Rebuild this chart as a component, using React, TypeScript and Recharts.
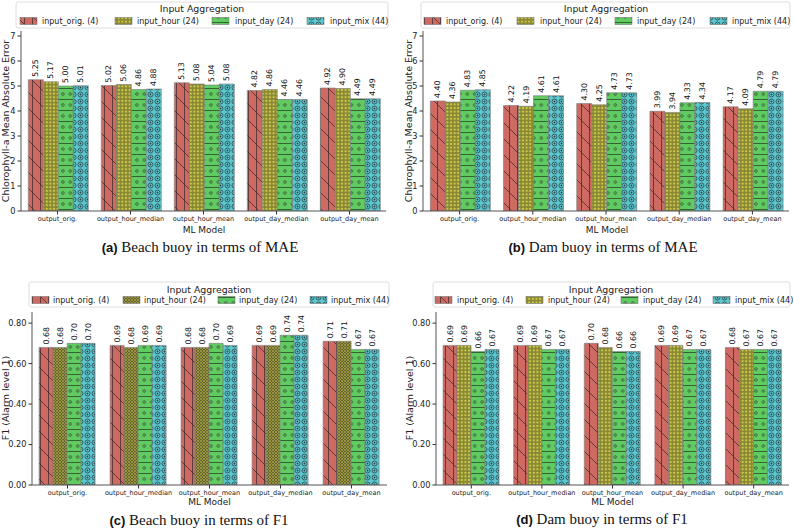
import React from "react";
import { BarChart, Bar, XAxis, YAxis, LabelList } from "recharts";

const MODELS = [
  "output_orig.",
  "output_hour_median",
  "output_hour_mean",
  "output_day_median",
  "output_day_mean",
];
const SERIES = ["input_orig. (4)", "input_hour (24)", "input_day (24)", "input_mix (44)"];
const KEYS = ["orig", "hour", "day", "mix"];

// (a) beach buoy, MAE
const beachMaeOrig = [5.25, 5.02, 5.13, 4.82, 4.92];
const beachMaeHour = [5.17, 5.06, 5.08, 4.86, 4.9];
const beachMaeDay = [5.0, 4.86, 5.04, 4.46, 4.49];
const beachMaeMix = [5.01, 4.88, 5.08, 4.46, 4.49];

// (b) dam buoy, MAE
const damMaeOrig = [4.4, 4.22, 4.3, 3.99, 4.17];
const damMaeHour = [4.36, 4.19, 4.25, 3.94, 4.09];
const damMaeDay = [4.83, 4.61, 4.73, 4.33, 4.79];
const damMaeMix = [4.85, 4.61, 4.73, 4.34, 4.79];

// (c) beach buoy, F1
const beachF1Orig = [0.68, 0.69, 0.68, 0.69, 0.71];
const beachF1Hour = [0.68, 0.68, 0.68, 0.69, 0.71];
const beachF1Day = [0.7, 0.69, 0.7, 0.74, 0.67];
const beachF1Mix = [0.7, 0.69, 0.69, 0.74, 0.67];

// (d) dam buoy, F1
const damF1Orig = [0.69, 0.69, 0.7, 0.69, 0.68];
const damF1Hour = [0.69, 0.69, 0.68, 0.69, 0.67];
const damF1Day = [0.66, 0.67, 0.66, 0.67, 0.67];
const damF1Mix = [0.67, 0.67, 0.66, 0.67, 0.67];

const MAE_TICKS = [0, 1, 2, 3, 4, 5, 6, 7];
const F1_TICKS = [0, 0.2, 0.4, 0.6, 0.8];

const FONT = "DejaVu Sans";
const SPINE = "#555";

function rowsOf(orig: number[], hour: number[], day: number[], mix: number[]) {
  return MODELS.map((m, i) => ({ model: m, orig: orig[i], hour: hour[i], day: day[i], mix: mix[i] }));
}

function Patterns() {
  return (
    <svg width={0} height={0} style={{ position: "absolute" }}>
      <defs>
        <pattern id="pOrig" patternUnits="userSpaceOnUse" width={16} height={16}>
          <rect width={16} height={16} fill="#CF6A62" />
          <path d="M0,0 L16,16 M-8,8 L8,24 M8,-8 L24,8" stroke="#3b2b2b" strokeWidth={0.75} />
          <path d="M0.5,0 V16 M8.5,0 V16" stroke="#3b2b2b" strokeWidth={0.75} />
        </pattern>
        <pattern id="pHourA" patternUnits="userSpaceOnUse" width={3.6} height={3.6}>
          <rect width={3.6} height={3.6} fill="#CFCB48" />
          <circle cx={1.8} cy={1.8} r={1.15} fill="none" stroke="#3f3f22" strokeWidth={0.7} />
        </pattern>
        <pattern id="pHourC" patternUnits="userSpaceOnUse" width={3} height={3}>
          <rect width={3} height={3} fill="#A9A442" />
          <circle cx={1.5} cy={1.5} r={0.95} fill="none" stroke="#3a3a22" strokeWidth={0.7} />
        </pattern>
        <pattern id="pDay" patternUnits="userSpaceOnUse" width={7.4} height={11}>
          <rect width={7.4} height={11} fill="#60CB60" />
          <path d="M0,0.5 H7.4" stroke="#2e4a2e" strokeWidth={0.8} />
          <circle cx={3.7} cy={6} r={1.3} fill="none" stroke="#2e3a2e" strokeWidth={0.65} />
        </pattern>
        <pattern id="pMix" patternUnits="userSpaceOnUse" width={7} height={7}>
          <rect width={7} height={7} fill="#5BC8CF" />
          <circle cx={3.5} cy={3.5} r={2.5} fill="none" stroke="#2b3f45" strokeWidth={0.8} />
          <circle cx={3.5} cy={3.5} r={0.9} fill="#2b3f45" />
        </pattern>
      </defs>
    </svg>
  );
}

function renderValue(props: any) {
  const { x, y, width, value } = props;
  const cx = Number(x) + Number(width) / 2;
  const cy = Number(y) - 3;
  return (
    <text
      x={cx}
      y={cy}
      transform={`rotate(-90 ${cx} ${cy})`}
      textAnchor="start"
      dominantBaseline="central"
      fontSize={7.8}
      fontFamily={FONT}
      fill="#111"
    >
      {Number(value).toFixed(2)}
    </text>
  );
}

type PanelProps = {
  rows: any[];
  left: number;
  top: number;
  margin: { top: number; right: number; bottom: number; left: number };
  yWidth: number;
  domain: [number, number];
  ticks: number[];
  fmt: (v: number) => string;
  hourFill: string;
};

function Panel({ rows, left, top, margin, yWidth, domain, ticks, fmt, hourFill }: PanelProps) {
  const fills = ["pOrig", hourFill, "pDay", "pMix"];
  return (
    <div style={{ position: "absolute", left, top }}>
      <BarChart width={397} height={264} data={rows} margin={margin} barCategoryGap="10%" barGap={0}>
        <XAxis
          dataKey="model"
          interval={0}
          height={20}
          tickSize={3.5}
          tickMargin={1.5}
          tick={{ fontSize: 6.5, fill: "#222", fontFamily: FONT }}
          tickLine={{ stroke: "#333" }}
          axisLine={{ stroke: SPINE }}
        />
        <XAxis xAxisId="top" dataKey="model" orientation="top" height={0} tick={false} tickLine={false} axisLine={{ stroke: SPINE }} />
        <YAxis
          width={yWidth}
          domain={domain}
          ticks={ticks}
          allowDataOverflow
          interval={0}
          tickSize={3.5}
          tickMargin={2}
          tickFormatter={fmt}
          tick={{ fontSize: 8.2, fill: "#222", fontFamily: FONT }}
          tickLine={{ stroke: "#333" }}
          axisLine={{ stroke: SPINE }}
        />
        <YAxis yAxisId="right" orientation="right" width={0} tick={false} tickLine={false} axisLine={{ stroke: SPINE }} />
        {KEYS.map((k, i) => (
          <Bar key={k} dataKey={k} fill={`url(#${fills[i]})`} stroke="#7a7a7a" strokeWidth={0.6} isAnimationActive={false}>
            <LabelList dataKey={k} content={renderValue} />
          </Bar>
        ))}
      </BarChart>
    </div>
  );
}

type LegendProps = {
  x: number;
  y: number;
  w: number;
  h: number;
  titleX: number;
  titleY: number;
  rowY: number;
  swatchX: number[];
  textX: number[];
  hourFill: string;
};

function LegendBox({ x, y, w, h, titleX, titleY, rowY, swatchX, textX, hourFill }: LegendProps) {
  const fills = ["pOrig", hourFill, "pDay", "pMix"];
  return (
    <g fontFamily={FONT}>
      <rect x={x} y={y} width={w} height={h} rx={2} fill="#fff" fillOpacity={0.85} stroke="#d6d6d6" strokeWidth={0.8} />
      <text x={titleX} y={titleY} textAnchor="middle" dominantBaseline="central" fontSize={9.4} fill="#222">
        Input Aggregation
      </text>
      {SERIES.map((s, i) => (
        <g key={s}>
          <rect x={swatchX[i]} y={rowY - 3.5} width={17} height={7} fill={`url(#${fills[i]})`} stroke="#666" strokeWidth={0.5} />
          <text x={textX[i]} y={rowY} dominantBaseline="central" fontSize={8} fill="#222">
            {s}
          </text>
        </g>
      ))}
    </g>
  );
}

function YLabel({ x, y, text }: { x: number; y: number; text: string }) {
  return (
    <text
      x={x}
      y={y}
      transform={`rotate(-90 ${x} ${y})`}
      textAnchor="middle"
      dominantBaseline="central"
      fontSize={9.5}
      fontFamily={FONT}
      fill="#222"
    >
      {text}
    </text>
  );
}

function Caption({ x, y, tag, text }: { x: number; y: number; tag: string; text: string }) {
  return (
    <text x={x} y={y} textAnchor="middle" fill="#111">
      <tspan fontFamily="Liberation Sans" fontWeight="bold" fontSize={13}>
        {tag}
      </tspan>
      <tspan fontFamily="Liberation Serif" fontSize={15}>
        {" " + text}
      </tspan>
    </text>
  );
}

function MLModel({ x, y }: { x: number; y: number }) {
  return (
    <text x={x} y={y} textAnchor="middle" fontSize={9} fontFamily={FONT} fill="#222">
      ML Model
    </text>
  );
}

const maeFmt = (v: number) => String(v);
const f1Fmt = (v: number) => v.toFixed(2);

export default function App() {
  return (
    <div style={{ position: "absolute", left: 0, top: 0, width: 794, height: 528, background: "#fff", overflow: "hidden" }}>
      <Patterns />
      <Panel
        rows={rowsOf(beachMaeOrig, beachMaeHour, beachMaeDay, beachMaeMix)}
        left={0}
        top={0}
        margin={{ top: 31, right: 11, bottom: 33, left: 1 }}
        yWidth={20}
        domain={[0, 7.2]}
        ticks={MAE_TICKS}
        fmt={maeFmt}
        hourFill="pHourA"
      />
      <Panel
        rows={rowsOf(damMaeOrig, damMaeHour, damMaeDay, damMaeMix)}
        left={397}
        top={0}
        margin={{ top: 31, right: 5, bottom: 33, left: 6 }}
        yWidth={20}
        domain={[0, 7.2]}
        ticks={MAE_TICKS}
        fmt={maeFmt}
        hourFill="pHourA"
      />
      <Panel
        rows={rowsOf(beachF1Orig, beachF1Hour, beachF1Day, beachF1Mix)}
        left={0}
        top={264}
        margin={{ top: 48, right: 10, bottom: 23, left: 4 }}
        yWidth={28}
        domain={[0, 0.855]}
        ticks={F1_TICKS}
        fmt={f1Fmt}
        hourFill="pHourC"
      />
      <Panel
        rows={rowsOf(damF1Orig, damF1Hour, damF1Day, damF1Mix)}
        left={397}
        top={264}
        margin={{ top: 48, right: 5, bottom: 23, left: 11 }}
        yWidth={28}
        domain={[0, 0.855]}
        ticks={F1_TICKS}
        fmt={f1Fmt}
        hourFill="pHourA"
      />
      <svg width={794} height={528} style={{ position: "absolute", left: 0, top: 0, pointerEvents: "none" }}>
        <LegendBox x={16} y={2} w={372} h={26} titleX={202} titleY={8.5} rowY={21} swatchX={[20, 115, 212, 307]} textX={[42, 137, 235, 330]} hourFill="pHourA" />
        <LegendBox x={421} y={2} w={369} h={26} titleX={606} titleY={8.5} rowY={21} swatchX={[424, 517, 615, 710]} textX={[446, 540, 637, 732]} hourFill="pHourA" />
        <LegendBox x={29} y={282} w={360} h={25} titleX={209} titleY={289} rowY={300} swatchX={[32, 123, 218, 310]} textX={[53, 144, 239, 331]} hourFill="pHourC" />
        <LegendBox x={433} y={282} w={357} h={25} titleX={611} titleY={289} rowY={300} swatchX={[435, 526, 621, 713]} textX={[457, 548, 643, 735]} hourFill="pHourA" />

        <YLabel x={5.5} y={121} text="Chlorophyll-a Mean Absolute Error" />
        <YLabel x={408} y={121} text="Chlorophyll-a Mean Absolute Error" />
        <YLabel x={5} y={398} text="F1 (Alarm level 1)" />
        <YLabel x={409} y={398} text="F1 (Alarm level 1)" />

        <MLModel x={204} y={232.5} />
        <MLModel x={607} y={232.5} />
        <MLModel x={209.5} y={505} />
        <MLModel x={612.5} y={505} />

        <Caption x={200} y={252} tag="(a)" text="Beach buoy in terms of MAE" />
        <Caption x={603} y={252} tag="(b)" text="Dam buoy in terms of MAE" />
        <Caption x={199} y={525} tag="(c)" text="Beach buoy in terms of F1" />
        <Caption x={602} y={524} tag="(d)" text="Dam buoy in terms of F1" />
      </svg>
    </div>
  );
}
